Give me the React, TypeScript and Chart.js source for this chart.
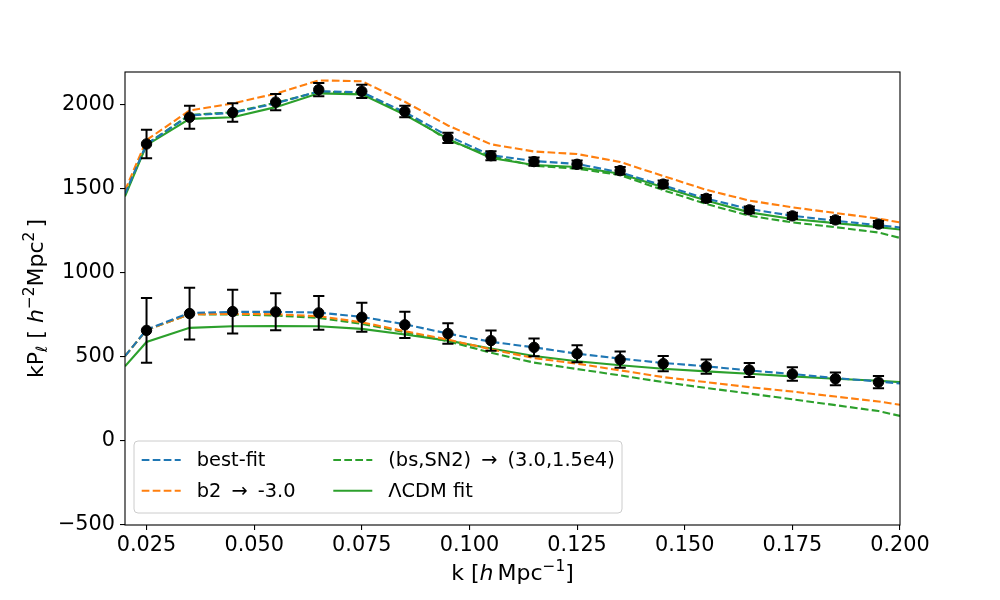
import React, { useEffect, useRef } from 'react';
import { Chart, registerables } from 'chart.js';

Chart.register(...registerables);

// measured band powers
const kData = [0.025, 0.035, 0.045, 0.055, 0.065, 0.075, 0.085, 0.095, 0.105, 0.115, 0.125, 0.135, 0.145, 0.155, 0.165, 0.175, 0.185, 0.195];
const p0Data = [1767, 1926, 1954, 2016, 2090, 2080, 1960, 1803, 1697, 1662, 1646, 1608, 1528, 1443, 1375, 1339, 1315, 1290];
const p0Err = [85, 68, 55, 48, 40, 39, 34, 30, 27, 25, 23, 22, 21, 20, 20, 19, 18, 18];
const p2Data = [658, 758, 770, 768, 762, 736, 691, 639, 597, 557, 519, 484, 460, 442, 422, 398, 370, 350];
const p2Err = [192, 154, 130, 110, 100, 86, 78, 61, 60, 53, 51, 48, 46, 42, 42, 40, 38, 36];

// model curves
const kModel = [0.02, 0.025, 0.035, 0.045, 0.055, 0.065, 0.075, 0.085, 0.095, 0.105, 0.115, 0.125, 0.135, 0.145, 0.155, 0.165, 0.175, 0.185, 0.195, 0.2];
const bestFitP0 = [1470, 1765, 1937, 1952, 2008, 2080, 2075, 1956, 1815, 1700, 1665, 1648, 1598, 1520, 1442, 1380, 1340, 1310, 1284, 1270];
const bestFitP2 = [505, 662, 762, 768, 768, 764, 738, 694, 639, 590, 557, 519, 490, 464, 444, 420, 398, 374, 354, 342];
const b2P0 = [1490, 1790, 1966, 2008, 2066, 2145, 2140, 2018, 1877, 1765, 1722, 1707, 1660, 1576, 1494, 1430, 1390, 1356, 1323, 1300];
const b2P2 = [505, 660, 754, 756, 754, 742, 706, 653, 603, 545, 493, 460, 420, 380, 350, 320, 294, 264, 235, 215];
const bsSnP0 = [1465, 1765, 1940, 1955, 2012, 2078, 2072, 1950, 1790, 1695, 1637, 1620, 1582, 1492, 1410, 1340, 1300, 1272, 1240, 1208];
const bsSnP2 = [505, 660, 754, 752, 746, 732, 697, 647, 593, 525, 466, 428, 390, 350, 315, 282, 248, 213, 178, 149];
const lcdmP0 = [1455, 1760, 1916, 1926, 1986, 2068, 2062, 1940, 1797, 1683, 1642, 1630, 1590, 1510, 1430, 1360, 1320, 1296, 1272, 1258];
const lcdmP2 = [444, 589, 673, 682, 683, 682, 667, 633, 597, 550, 505, 474, 450, 430, 414, 400, 384, 370, 358, 350];

const xTicks = [0.025, 0.05, 0.075, 0.1, 0.125, 0.15, 0.175, 0.2];
const yTicks = [-500, 0, 500, 1000, 1500, 2000];

const legendLabels = [
  'best-fit',
  'b2 \u2009\u2192\u2009 -3.0',
  '(bs,SN2) \u2009\u2192\u2009 (3.0,1.5e4)',
  '\u039BCDM fit',
];

const BLUE = '#1f77b4';
const ORANGE = '#ff7f0e';
const GREEN = '#2ca02c';
const DASH = [7.7, 3.3];
const FONT = '"DejaVu Sans", sans-serif';

const pts = (ys: number[]) => ys.map((y, i) => ({ x: kModel[i], y }));

type Run = { text: string; size: number; italic?: boolean; dy?: number; gap?: number };

function drawRuns(ctx: CanvasRenderingContext2D, runs: Run[], cx: number, baseline: number) {
  let total = 0;
  const widths = runs.map((r) => {
    ctx.font = `${r.italic ? 'oblique ' : ''}${r.size}px ${FONT}`;
    const w = ctx.measureText(r.text).width + (r.gap || 0);
    total += w;
    return w;
  });
  let x = cx - total / 2;
  ctx.textAlign = 'left';
  ctx.textBaseline = 'alphabetic';
  runs.forEach((r, i) => {
    ctx.font = `${r.italic ? 'oblique ' : ''}${r.size}px ${FONT}`;
    ctx.fillText(r.text, x, baseline + (r.dy || 0));
    x += widths[i];
  });
}

const extras = {
  id: 'extras',
  afterDatasetsDraw(chart: any) {
    const { ctx, scales } = chart;
    const xs = scales.x;
    const ys = scales.y;
    ctx.save();
    ctx.strokeStyle = '#000';
    ctx.lineWidth = 2;
    const bars = (vals: number[], errs: number[]) => {
      vals.forEach((v, i) => {
        const px = xs.getPixelForValue(kData[i]);
        const top = ys.getPixelForValue(v + errs[i]);
        const bot = ys.getPixelForValue(v - errs[i]);
        ctx.beginPath();
        ctx.moveTo(px, top);
        ctx.lineTo(px, bot);
        ctx.moveTo(px - 5.6, top);
        ctx.lineTo(px + 5.6, top);
        ctx.moveTo(px - 5.6, bot);
        ctx.lineTo(px + 5.6, bot);
        ctx.stroke();
      });
    };
    bars(p0Data, p0Err);
    bars(p2Data, p2Err);
    ctx.restore();
  },
  afterDraw(chart: any) {
    const { ctx, chartArea } = chart;
    const { left, top, right, bottom } = chartArea;
    ctx.save();
    // frame
    ctx.strokeStyle = '#000';
    ctx.lineWidth = 1.1;
    ctx.strokeRect(left, top, right - left, bottom - top);

    // legend
    const bx = left + 9;
    const by = bottom - 84;
    const bw = 488;
    const bh = 72;
    ctx.beginPath();
    ctx.roundRect(bx, by, bw, bh, 4);
    ctx.fillStyle = 'rgba(255,255,255,0.8)';
    ctx.fill();
    ctx.strokeStyle = '#cccccc';
    ctx.lineWidth = 1;
    ctx.stroke();
    const entries = [
      { color: BLUE, dash: DASH, col: 0, row: 0 },
      { color: ORANGE, dash: DASH, col: 0, row: 1 },
      { color: GREEN, dash: DASH, col: 1, row: 0 },
      { color: GREEN, dash: [] as number[], col: 1, row: 1 },
    ];
    ctx.font = `19.4px ${FONT}`;
    ctx.textBaseline = 'middle';
    ctx.textAlign = 'left';
    entries.forEach((e, i) => {
      const hx = bx + (e.col === 0 ? 7.7 : 199.3);
      const cy = by + (e.row === 0 ? 19 : 49.7);
      ctx.beginPath();
      ctx.setLineDash(e.dash);
      ctx.strokeStyle = e.color;
      ctx.lineWidth = 2;
      ctx.moveTo(hx, cy);
      ctx.lineTo(hx + 39, cy);
      ctx.stroke();
      ctx.setLineDash([]);
      ctx.fillStyle = '#000';
      ctx.fillText(legendLabels[i], hx + 55, cy + 1);
    });

    // axis titles
    ctx.fillStyle = '#000';
    drawRuns(ctx, [
      { text: 'k [', size: 22 },
      { text: 'h', size: 22, italic: true, gap: 4 },
      { text: 'Mpc', size: 22 },
      { text: '\u22121', size: 15.4, dy: -9 },
      { text: ']', size: 22 },
    ], (left + right) / 2, 580);

    ctx.translate(43, (top + bottom) / 2);
    ctx.rotate(-Math.PI / 2);
    drawRuns(ctx, [
      { text: 'kP', size: 22 },
      { text: '\u2113', size: 15.4, dy: 4 },
      { text: ' [ ', size: 22 },
      { text: 'h', size: 22, italic: true },
      { text: '\u22122', size: 15.4, dy: -9 },
      { text: 'Mpc', size: 22 },
      { text: '2', size: 15.4, dy: -9, gap: 4 },
      { text: ']', size: 22 },
    ], 0, 0);
    ctx.restore();
  },
};

const App: React.FC = () => {
  const canvasRef = useRef<HTMLCanvasElement>(null);

  useEffect(() => {
    if (!canvasRef.current) return;
    const line = (data: number[], color: string, dash: number[]) => ({
      type: 'line' as const,
      data: pts(data),
      borderColor: color,
      backgroundColor: color,
      borderWidth: 2.1,
      borderDash: dash,
      pointRadius: 0,
      fill: false,
      tension: 0,
      order: 1,
    });
    const chart = new Chart(canvasRef.current, {
      type: 'line',
      data: {
        datasets: [
          {
            type: 'line',
            data: kData.map((k, i) => ({ x: k, y: p0Data[i] })),
            showLine: false,
            pointRadius: 5.2,
            pointBackgroundColor: '#000',
            pointBorderColor: '#000',
            borderColor: '#000',
            order: 0,
          },
          {
            type: 'line',
            data: kData.map((k, i) => ({ x: k, y: p2Data[i] })),
            showLine: false,
            pointRadius: 5.2,
            pointBackgroundColor: '#000',
            pointBorderColor: '#000',
            borderColor: '#000',
            order: 0,
          },
          line(bestFitP0, BLUE, DASH),
          line(bestFitP2, BLUE, DASH),
          line(b2P0, ORANGE, DASH),
          line(b2P2, ORANGE, DASH),
          line(bsSnP0, GREEN, DASH),
          line(bsSnP2, GREEN, DASH),
          line(lcdmP0, GREEN, []),
          line(lcdmP2, GREEN, []),
        ],
      },
      options: {
        animation: false,
        responsive: true,
        maintainAspectRatio: false,
        layout: { padding: { top: 72, right: 100, left: 0, bottom: 0 } },
        plugins: {
          legend: { display: false },
          tooltip: { enabled: false },
        },
        scales: {
          x: {
            type: 'linear',
            min: 0.02,
            max: 0.2,
            afterFit: (scale: any) => {
              scale.height = 75;
            },
            afterBuildTicks: (axis: any) => {
              axis.ticks = xTicks.map((v) => ({ value: v }));
            },
            ticks: {
              color: '#000',
              font: { family: 'DejaVu Sans', size: 20.8 },
              padding: 3,
              maxRotation: 0,
              autoSkip: false,
              callback: (v: any) => Number(v).toFixed(3),
            },
            grid: { drawOnChartArea: false, drawTicks: true, tickLength: 5, tickColor: '#000', lineWidth: 1.1 },
            border: { display: false },
          },
          y: {
            type: 'linear',
            min: -500,
            max: 2195,
            afterFit: (scale: any) => {
              scale.width = 125;
            },
            afterBuildTicks: (axis: any) => {
              axis.ticks = yTicks.map((v) => ({ value: v }));
            },
            ticks: {
              color: '#000',
              font: { family: 'DejaVu Sans', size: 20.8 },
              padding: 5,
              autoSkip: false,
              callback: (v: any) => (Number(v) < 0 ? '\u2212' + Math.abs(Number(v)) : String(v)),
            },
            grid: { drawOnChartArea: false, drawTicks: true, tickLength: 5, tickColor: '#000', lineWidth: 1.1 },
            border: { display: false },
          },
        },
      },
      plugins: [extras],
    });
    return () => {
      chart.destroy();
    };
  }, []);

  return (
    <div style={{ position: 'absolute', left: 0, top: 0, width: 1000, height: 600, background: '#fff' }}>
      <canvas ref={canvasRef} />
    </div>
  );
};

export default App;
